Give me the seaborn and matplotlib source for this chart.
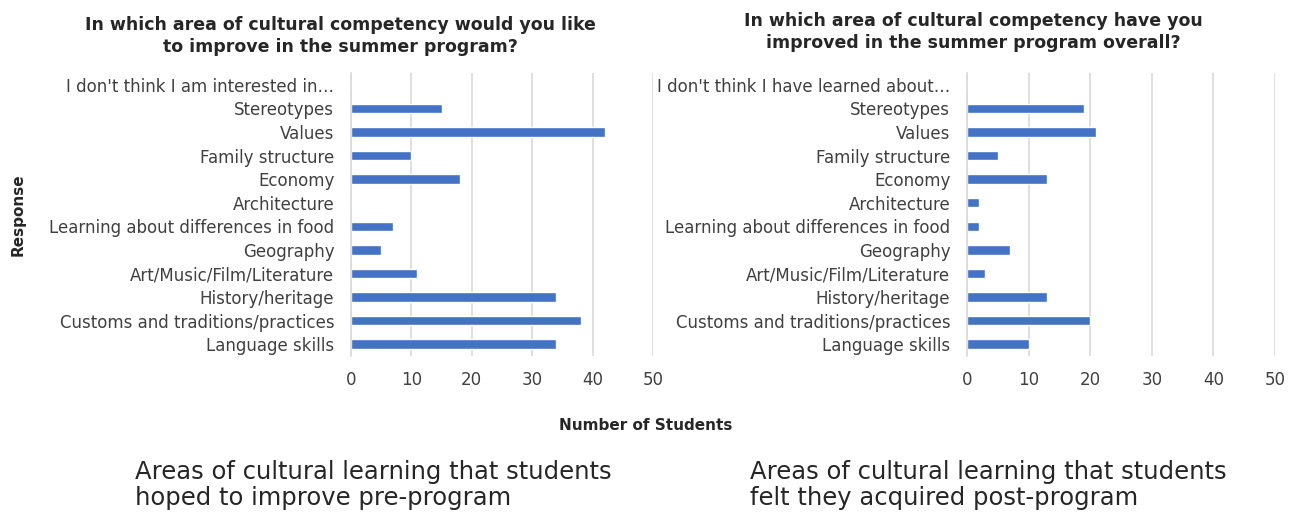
import matplotlib
matplotlib.use("Agg")
import matplotlib.pyplot as plt
import seaborn as sns
import pandas as pd

# Survey responses (number of students)
pre_categories = [
    "I don't think I am interested in\u2026",
    "Stereotypes", "Values", "Family structure", "Economy", "Architecture",
    "Learning about differences in food", "Geography",
    "Art/Music/Film/Literature", "History/heritage",
    "Customs and traditions/practices", "Language skills",
]
post_categories = [
    "I don't think I have learned about\u2026",
    "Stereotypes", "Values", "Family structure", "Economy", "Architecture",
    "Learning about differences in food", "Geography",
    "Art/Music/Film/Literature", "History/heritage",
    "Customs and traditions/practices", "Language skills",
]
pre_counts = [0, 15, 42, 10, 18, 0, 7, 5, 11, 34, 38, 34]
post_counts = [0, 19, 21, 5, 13, 2, 2, 7, 3, 13, 20, 10]
x_ticks = [0, 10, 20, 30, 40, 50]

sns.set_theme(style="white")
plt.rcParams["font.family"] = ["DejaVu Sans"]

W, H = 1293, 515
fig = plt.figure(figsize=(W / 100, H / 100), dpi=100)

bar_color = "#4472C4"
text_color = "#262626"


def make_axes(x0, x1, y_top, y_bot):
    return fig.add_axes([x0 / W, 1 - y_bot / H, (x1 - x0) / W, (y_bot - y_top) / H])


def draw(ax, cats, vals):
    df = pd.DataFrame({"Response": cats, "Count": vals})
    sns.barplot(data=df, y="Response", x="Count", orient="h", color=bar_color,
                width=0.4, saturation=1, ax=ax)
    ax.set_xlim(0, 50)
    ax.set_ylim(11.5, -0.5)
    ax.set_xticks(x_ticks)
    ax.set_xticklabels([str(t) for t in x_ticks], fontsize=12, color="#404040")
    ax.tick_params(axis="y", labelsize=12, labelcolor="#404040", length=0, pad=12)
    ax.tick_params(axis="x", length=0, pad=11)
    ax.xaxis.grid(True, color="#D9D9D9", linewidth=1.2)
    ax.set_axisbelow(True)
    for s in ["top", "right", "bottom"]:
        ax.spines[s].set_visible(False)
    ax.spines["left"].set_color("#D9D9D9")
    ax.spines["left"].set_linewidth(1.2)
    ax.set_xlabel("")
    ax.set_ylabel("")


ax1 = make_axes(351, 653, 73, 356)
draw(ax1, pre_categories, pre_counts)
ax2 = make_axes(967, 1275, 73, 356)
draw(ax2, post_categories, post_counts)

fig.text(340 / W, 1 - 36 / H,
         "In which area of cultural competency would you like\nto improve in the summer program?",
         ha="center", va="center", fontsize=12.5, fontweight="bold", color=text_color,
         linespacing=1.25)
fig.text(973 / W, 1 - 32 / H,
         "In which area of cultural competency have you\nimproved in the summer program overall?",
         ha="center", va="center", fontsize=12.5, fontweight="bold", color=text_color,
         linespacing=1.25)

fig.text(18 / W, 1 - 215 / H, "Response", rotation=90, ha="center", va="center",
         fontsize=11, fontweight="bold", color=text_color)
fig.text(646 / W, 1 - 426 / H, "Number of Students", ha="center", va="center",
         fontsize=11, fontweight="bold", color=text_color)

fig.text(135 / W, 1 - 485 / H,
         "Areas of cultural learning that students\nhoped to improve pre-program",
         ha="left", va="center", fontsize=17.5, color=text_color, linespacing=1.15)
fig.text(750 / W, 1 - 485 / H,
         "Areas of cultural learning that students\nfelt they acquired post-program",
         ha="left", va="center", fontsize=17.5, color=text_color, linespacing=1.15)

fig.savefig("out.png", dpi=100, facecolor="white")
